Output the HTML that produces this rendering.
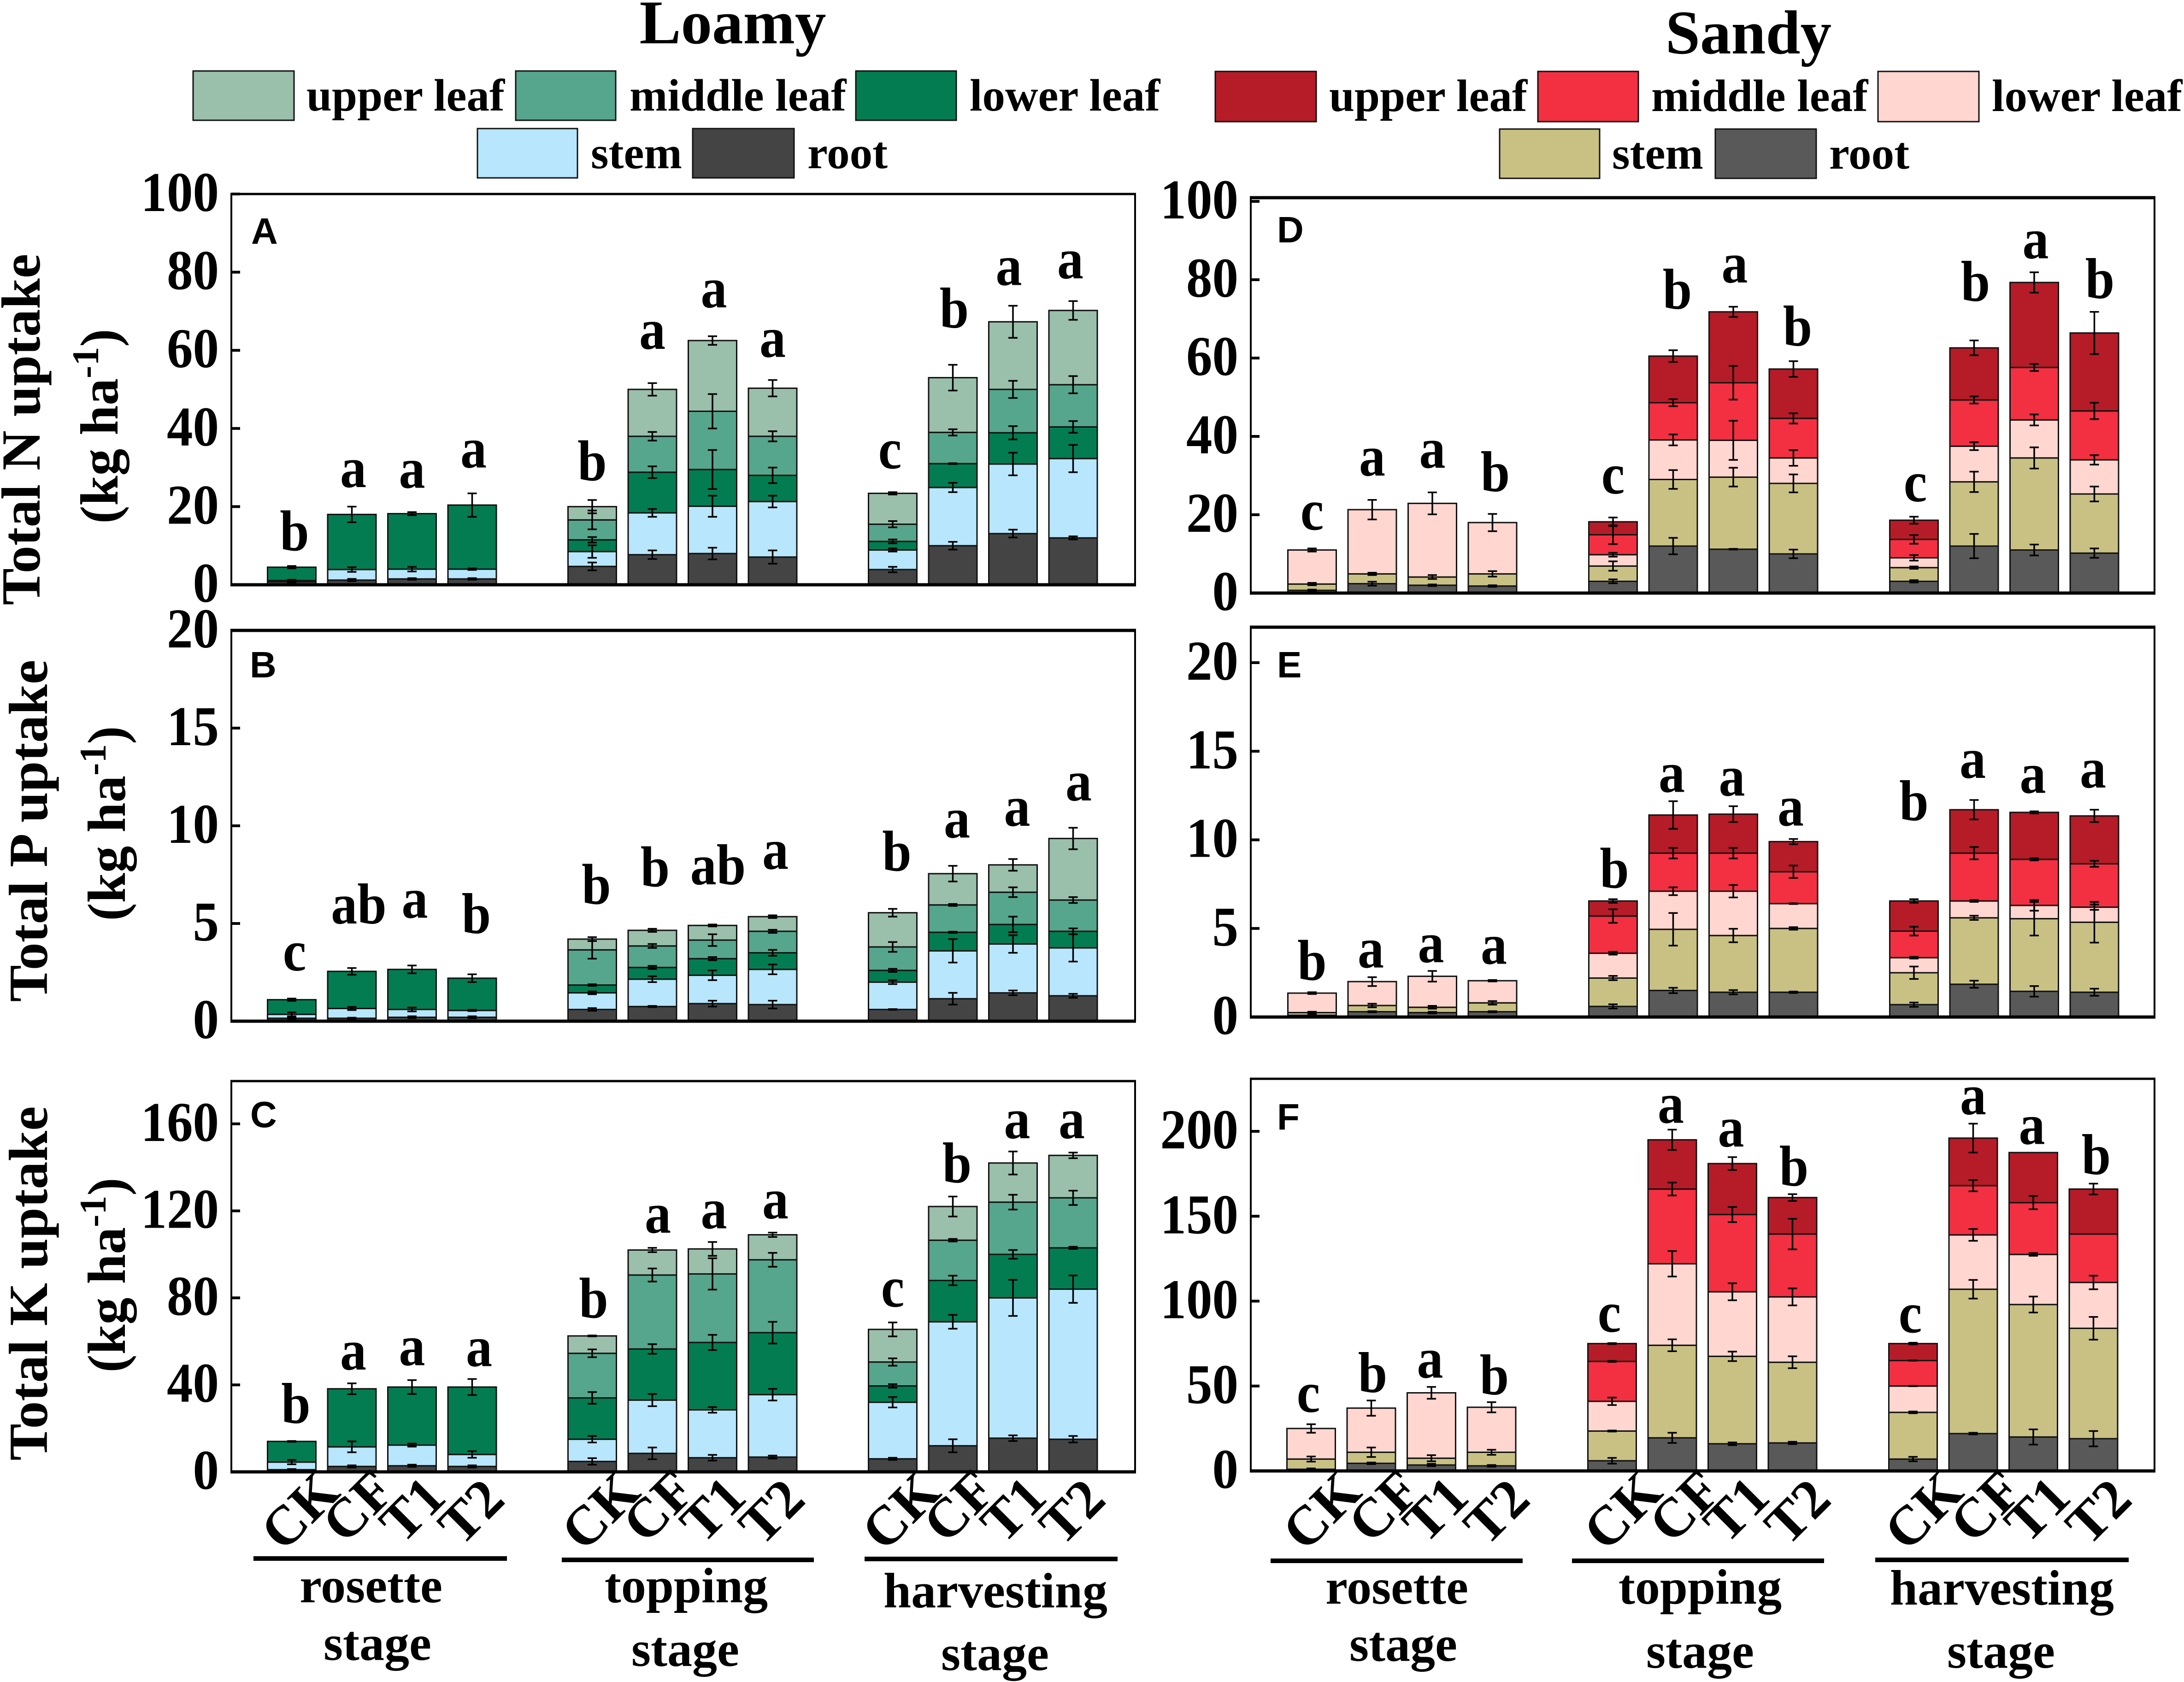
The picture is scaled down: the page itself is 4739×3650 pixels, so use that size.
<!DOCTYPE html>
<html lang="en">
<head>
<meta charset="utf-8">
<title>Total N, P and K uptake in loamy and sandy soil</title>
<style>
html,body{margin:0;padding:0;background:#fff;width:4739px;height:3650px;overflow:hidden}
svg{display:block}
text{font-family:"Liberation Serif",serif;font-weight:bold;fill:#000}
.lg{font-size:99px}
.stg{font-size:108px;text-anchor:middle}
.ttl{font-size:135px;text-anchor:middle}
.ay{font-size:120px;text-anchor:middle}
.ay2{font-size:117px;text-anchor:middle}
.pl{font-family:"Liberation Sans",sans-serif;font-size:80px}
.sw{stroke:#111;stroke-width:3}
</style>
</head>
<body>
<svg id="figure" xmlns="http://www.w3.org/2000/svg" width="4739" height="3650" viewBox="0 0 4739 3650">
<rect width="4739" height="3650" fill="#fff"/>
<text class="ttl" x="1590" y="94">Loamy</text>
<text class="ttl" x="3794" y="116">Sandy</text>

<g>
<rect class="sw" x="419" y="154" width="219" height="107" fill="#9abfab"/>
<text class="lg" x="665" y="240">upper leaf</text>
<rect class="sw" x="1119" y="154" width="217" height="107" fill="#55a68c"/>
<text class="lg" x="1366" y="240">middle leaf</text>
<rect class="sw" x="1857" y="154" width="218" height="107" fill="#037c52"/>
<text class="lg" x="2104" y="240">lower leaf</text>
<rect class="sw" x="1036" y="279" width="217" height="107" fill="#b8e6fc"/>
<text class="lg" x="1282" y="365">stem</text>
<rect class="sw" x="1503" y="279" width="220" height="107" fill="#444444"/>
<text class="lg" x="1752" y="365">root</text>
</g>

<g>
<rect class="sw" x="2637" y="155" width="219" height="109" fill="#b51c28"/>
<text class="lg" x="2884" y="241">upper leaf</text>
<rect class="sw" x="3337" y="155" width="218" height="109" fill="#f32f42"/>
<text class="lg" x="3583" y="241">middle leaf</text>
<rect class="sw" x="4075" y="155" width="219" height="109" fill="#ffd6d0"/>
<text class="lg" x="4322" y="241">lower leaf</text>
<rect class="sw" x="3254" y="280" width="217" height="107" fill="#c9c184"/>
<text class="lg" x="3498" y="366">stem</text>
<rect class="sw" x="3722" y="280" width="219" height="107" fill="#595959"/>
<text class="lg" x="3969" y="366">root</text>
</g>

<text class="ay" transform="translate(86,932) rotate(-90)">Total N uptake</text>
<text class="ay2" transform="translate(255,925) rotate(-90)">(kg ha<tspan font-size="82" dy="-42">-1</tspan><tspan dy="42">)</tspan></text>
<text class="ay" transform="translate(102,1803) rotate(-90)">Total P uptake</text>
<text class="ay2" transform="translate(271,1787) rotate(-90)">(kg ha<tspan font-size="82" dy="-42">-1</tspan><tspan dy="42">)</tspan></text>
<text class="ay" transform="translate(102,2785) rotate(-90)">Total K uptake</text>
<text class="ay2" transform="translate(271,2767) rotate(-90)">(kg ha<tspan font-size="82" dy="-42">-1</tspan><tspan dy="42">)</tspan></text>

<g>
<line x1="550" x2="1100" y1="3382" y2="3382" stroke="#000" stroke-width="10"/>
<line x1="1219" x2="1766" y1="3385" y2="3385" stroke="#000" stroke-width="10"/>
<line x1="1876" x2="2425" y1="3383" y2="3383" stroke="#000" stroke-width="10"/>
<text class="stg" x="805" y="3477">rosette</text>
<text class="stg" x="819" y="3602">stage</text>
<text class="stg" x="1489" y="3477">topping</text>
<text class="stg" x="1487" y="3615">stage</text>
<text class="stg" x="2160" y="3488">harvesting</text>
<text class="stg" x="2159" y="3624">stage</text>
</g>
<g>
<line x1="2757" x2="3304" y1="3387" y2="3387" stroke="#000" stroke-width="10"/>
<line x1="3411" x2="3958" y1="3387" y2="3387" stroke="#000" stroke-width="10"/>
<line x1="4069" x2="4619" y1="3385" y2="3385" stroke="#000" stroke-width="10"/>
<text class="stg" x="3031" y="3480">rosette</text>
<text class="stg" x="3045" y="3604">stage</text>
<text class="stg" x="3689" y="3480">topping</text>
<text class="stg" x="3689" y="3619">stage</text>
<text class="stg" x="4344" y="3482">harvesting</text>
<text class="stg" x="4342" y="3619">stage</text>
</g>
<g id="plots"></g>
</svg>

<script>
// Shared categories
const treatments = ['CK', 'CF', 'T1', 'T2'];
const stages = ['rosette', 'topping', 'harvesting'];
const organs = ['root', 'stem', 'lower-leaf', 'middle-leaf', 'upper-leaf'];

// Panel A: Total N uptake, loamy
const A_ticks = [0, 20, 40, 60, 80, 100];
const A_root = [.8,1.2,1.5,1.5, 4.7,7.7,8,7.1, 3.9,10,13.1,12];
const A_stem = [.3,2.7,2.5,2.5, 3.8,10.7,12.1,14.2, 5,14.9,17.8,20.3];
const A_lower = [3.4,14.1,14.2,16.4, 3,10.4,9.4,6.7, 2.2,6.1,8,8.1];
const A_middle = [0,0,0,0, 5.1,9.2,14.9,10, 4.4,8,11.1,10.8];
const A_upper = [0,0,0,0, 3.4,12,18.1,12.3, 7.9,14,17.3,19];
const A_rootErr = [.2,.3,.2,.2, 1,1.1,1.5,1.7, .7,1,1,.4];
const A_stemErr = [.2,.6,.6,.2, 1.6,1,2.7,1.5, .4,1.2,2.9,3.5];
const A_lowerErr = [.3,2,.4,3, .7,1.5,5,2, .5,.1,1.7,1.5];
const A_middleErr = [0,0,0,0, 2.4,1.1,4.4,1.3, .8,.8,2.2,2.2];
const A_upperErr = [0,0,0,0, 1.7,1.6,1.1,2.1, .3,3.3,4.1,2.4];
const A_letters = ['b','a','a','a', 'b','a','a','a', 'c','b','a','a'];
const A_letterLevels = [8.8,25,24.8,30, 26.7,60.4,71,58.3, 29.8,65.8,76.7,78.4];

// Panel B: Total P uptake, loamy
const B_ticks = [0, 5, 10, 15, 20];
const B_root = [.15,.15,.2,.2, .6,.75,.9,.85, .6,1.15,1.45,1.3];
const B_stem = [.2,.5,.4,.35, .85,1.4,1.45,1.8, 1.4,2.45,2.5,2.45];
const B_lower = [.75,1.9,2.05,1.65, .4,.6,.85,.85, .6,.95,1,.85];
const B_middle = [0,0,0,0, 1.8,1.1,.95,1.1, 1.2,1.4,1.65,1.6];
const B_upper = [0,0,0,0, .55,.8,.75,.75, 1.75,1.6,1.4,3.15];
const B_rootErr = [.03,.03,.05,.05, .07,.03,.15,.2, .02,.3,.12,.1];
const B_stemErr = [.1,.08,.1,.03, .07,.15,.25,.25, .1,.6,.45,.7];
const B_lowerErr = [.06,.17,.2,.2, .04,.08,.08,.15, .08,.03,.4,.15];
const B_middleErr = [0,0,0,0, .45,.1,.3,.08, .25,.05,.25,.15];
const B_upperErr = [0,0,0,0, .1,.08,.05,.07, .2,.4,.3,.55];
const B_letters = ['c','ab','a','b', 'b','b','ab','a', 'b','a','a','a'];
const B_letterLevels = [2.6,5,5.3,4.5, 6,6.9,7,7.8, 7.7,9.4,10,11.3];

// Panel C: Total K uptake, loamy
const C_ticks = [0, 40, 80, 120, 160];
const C_root = [1,2.5,2.8,2.5, 4.8,8.5,6.5,6.8, 6,12,15.5,15];
const C_stem = [3.5,9,9.5,5.5, 10.2,24.5,22,28.7, 26,57,64.5,69];
const C_lower = [9.5,26.7,26.7,31, 19,23.5,31,28.5, 7.5,19,20,19];
const C_middle = [0,0,0,0, 20.5,34,31.5,33.5, 11,18.5,24,23];
const C_upper = [0,0,0,0, 8,11.5,11.5,11.5, 15,15.5,18,19.5];
const C_rootErr = [.3,.5,.5,.5, 1.5,2.7,1.3,.7, .5,3,1.3,1.5];
const C_stemErr = [1,2.5,.7,1.5, 1.5,2.8,1.3,2.7, 2.4,3.2,8.3,6.3];
const C_lowerErr = [.2,2.5,3.2,3.7, 2.7,2.2,3.5,5, .8,2.2,2,.5];
const C_middleErr = [0,0,0,0, 1.8,3,7.2,3.2, 1.7,.6,3.4,3.3];
const C_upperErr = [0,0,0,0, .2,1,3.2,1, 3.2,4.6,5.3,1.3];
const C_letters = ['b','a','a','a', 'b','a','a','a', 'c','b','a','a'];
const C_letterLevels = [22.5,47,49,48.6, 70.9,110,112,116.5, 76,133,153.4,153.4];

// Panel D: Total N uptake, sandy
const D_ticks = [0, 20, 40, 60, 80, 100];
const D_root = [.7,2.4,2,1.8, 3,12,11.2,10, 3,12,11,10.2];
const D_stem = [1.6,2.5,2.1,3.1, 3.9,17,18.4,18, 3.5,16.4,23.5,15.1];
const D_lower = [8.7,16.4,18.8,13.1, 2.9,10.1,9.4,6.5, 2.5,9.1,9.7,8.7];
const D_middle = [0,0,0,0, 5.1,9.5,14.7,10.1, 4.7,11.8,13.4,12.5];
const D_upper = [0,0,0,0, 3.3,11.9,18.1,12.6, 4.9,13.3,21.7,19.9];
const D_rootErr = [.2,.5,.2,.2, .5,2.1,.1,1.1, .3,3.1,1.4,1.2];
const D_stemErr = [.3,.3,.5,.7, 1.2,2.4,2.4,2.3, .3,2.6,2.7,1.9];
const D_lowerErr = [.4,2.5,2.8,2.2, .5,1.4,5,2, .7,1,1.4,1.2];
const D_middleErr = [0,0,0,0, 2.4,.9,4.3,1.3, 1.1,.9,.9,2.1];
const D_upperErr = [0,0,0,0, 1.1,1.5,1.3,2, .9,1.9,2.6,5.4];
const D_letters = ['c','a','a','b', 'c','b','a','b', 'c','b','a','b'];
const D_letterLevels = [16.2,30,32,26, 25.4,72.6,79.3,63.2, 23.4,74.6,85.5,75.3];

// Panel E: Total P uptake, sandy
const E_ticks = [0, 5, 10, 15, 20];
const E_root = [.1,.3,.25,.3, .6,1.5,1.4,1.4, .7,1.85,1.45,1.4];
const E_stem = [.15,.35,.3,.5, 1.6,3.45,3.2,3.6, 1.8,3.75,4.1,3.95];
const E_lower = [1.1,1.35,1.75,1.25, 1.4,2.15,2.5,1.4, .85,.95,.75,.85];
const E_middle = [0,0,0,0, 2.1,2.15,2.15,1.8, 1.5,2.7,2.6,2.45];
const E_upper = [0,0,0,0, .85,2.15,2.2,1.7, 1.7,2.45,2.65,2.7];
const E_rootErr = [.03,.03,.05,.03, .12,.15,.12,.04, .12,.2,.3,.2];
const E_stemErr = [.05,.1,.08,.1, .12,.92,.38,.07, .35,.12,.95,1.15];
const E_lowerErr = [.05,.25,.3,.04, .08,.22,.35,.02, .05,.05,.3,.15];
const E_middleErr = [0,0,0,0, .38,.3,.3,.35, .25,.35,.06,.17];
const E_upperErr = [0,0,0,0, .1,.78,.45,.15, .1,.55,.06,.35];
const E_letters = ['b','a','a','a', 'b','a','a','a', 'b','a','a','a'];
const E_letterLevels = [2.1,2.8,3.1,3, 7.3,12.7,12.5,10.8, 11.1,13.5,12.65,12.95];

// Panel F: Total K uptake, sandy
const F_ticks = [0, 50, 100, 150, 200];
const F_root = [1,4.5,3.5,3, 6,19.5,16,16.5, 7,22,20,19];
const F_stem = [6,6.5,4,8, 17.5,54.5,51.5,47.5, 27.5,85,78,65];
const F_lower = [18,26,38.5,26.5, 17.5,48,38,38.5, 15.5,32,29.5,27];
const F_middle = [0,0,0,0, 23.5,44,45.5,37, 15,29,30.5,28.5];
const F_upper = [0,0,0,0, 10.5,29,30,21.5, 10,28,29.5,26.5];
const F_rootErr = [.5,.5,.7,.5, 1.7,3,.8,.7, 1.3,.5,4.5,4.5];
const F_stemErr = [1.5,2.8,1.8,1.5, .3,3.5,2.8,3.5, .5,5.5,4.7,6.7];
const F_lowerErr = [2.5,4.5,3.5,3, 2.2,7.5,5,5, .1,3.5,.8,4];
const F_middleErr = [0,0,0,0, .3,3.8,4.5,9, .1,3.3,3.9,0];
const F_upperErr = [0,0,0,0, .3,6,3.8,2, .5,8.5,0,3.2];
const F_letters = ['c','b','a','b', 'c','a','a','b', 'c','a','a','b'];
const F_letterLevels = [34.7,46.4,55,45, 82,205,191,168, 81.6,210,192.5,174.7];

const SVG_NS = 'http://www.w3.org/2000/svg';
const plotsRoot = document.getElementById('plots');
const loamyColors = ['#444444', '#b8e6fc', '#037c52', '#55a68c', '#9abfab'];
const sandyColors = ['#595959', '#c9c184', '#ffd6d0', '#f32f42', '#b51c28'];

function node(parent, tag) {
  const el = document.createElementNS(SVG_NS, tag);
  parent.appendChild(el);
  return el;
}
function setAll(el, props) {
  Object.keys(props).forEach(function (k) { el.setAttribute(k, props[k]); });
  return el;
}

function drawPanel(cfg) {
  const group = node(plotsRoot, 'g');
  
  

  const yScale = function (v) { return cfg.y0 - v * cfg.unit; };
  const xScale = function (i) {
    const g = Math.floor(i / 4);
    return cfg.groupStarts[g] + (i % 4) * 130.5;
  };
  const bw = 105;

  const frame = setAll(node(group, 'rect'), { x: cfg.left, y: cfg.top, width: cfg.right - cfg.left, height: cfg.y0 - cfg.top, fill: '#fff', stroke: '#000', 'stroke-width': 4 });
  
  

  cfg.ticks.forEach(function (t) {
    const y = yScale(t);
    const tick = setAll(node(group, 'line'), { x1: cfg.left, x2: cfg.left + 19, y1: y, y2: y, stroke: '#000', 'stroke-width': 6 });
    
    
    const lab = setAll(node(group, 'text'), { transform: 'translate(' + (cfg.left - 27) + ',' + (y + 37) + ') scale(1,1.08)', 'text-anchor': 'end', 'font-size': 113 });
    lab.textContent = String(t);
    
    
  });

  const n = cfg.series[0].length;
  for (let i = 0; i < n; i++) {
    const x = xScale(i);
    let base = 0;
    const tops = [];
    cfg.series.forEach(function (values, s) {
      const v = values[i];
      const top = base + v;
      tops.push(top);
      if (v > 0) {
        const bar = setAll(node(group, 'rect'), { x: x - bw / 2, y: yScale(top), width: bw, height: v * cfg.unit, fill: cfg.colors[s], stroke: '#111', 'stroke-width': 3 });
        
        
      }
      base = top;
    });
    cfg.errors.forEach(function (errs, s) {
      const e = errs[i];
      if (cfg.series[s][i] <= 0 || e <= 0) return;
      const hi = yScale(tops[s] + e);
      const lo = yScale(tops[s] - e);
      const err = setAll(node(group, 'path'), { d: 'M' + (x - 10) + ' ' + hi + 'H' + (x + 10) + 'M' + x + ' ' + hi + 'V' + lo + 'M' + (x - 10) + ' ' + lo + 'H' + (x + 10), fill: 'none', stroke: '#000', 'stroke-width': 3.5 });
      
      
    });
    const letter = setAll(node(group, 'text'), { transform: 'translate(' + (x + cfg.letterNudge[i]) + ',' + yScale(cfg.letterLevels[i]) + ') scale(1,1.1)', 'text-anchor': 'middle', 'font-size': 114 });
    letter.textContent = cfg.letters[i];
    
    
    if (cfg.showX) {
      const t = i % 4;
      const xl = setAll(node(group, 'text'), { transform: 'translate(' + (x + cfg.xLabelDx[t]) + ',' + cfg.xLabelY[t] + ') rotate(-45)', 'text-anchor': 'middle', 'dominant-baseline': 'central', 'font-size': 120 });
      xl.textContent = treatments[t];
      
      
    }
  }

  const topLine = setAll(node(group, 'line'), { x1: cfg.left - 2, x2: cfg.right + 2, y1: cfg.top, y2: cfg.top, stroke: '#000', 'stroke-width': cfg.topW });
  
  
  const axis = setAll(node(group, 'line'), { x1: cfg.left - 2, x2: cfg.right + 2, y1: cfg.y0, y2: cfg.y0, stroke: '#000', 'stroke-width': 7 });
  
  

  const tag = setAll(node(group, 'text'), { x: cfg.tagX, y: cfg.tagY, 'font-size': 80 });
  tag.setAttribute('class', 'pl');
  tag.textContent = cfg.id;
  
  
}

const leftStarts = [633, 1285, 1937];
const rightStarts = [2847, 3500, 4153];
const leftXDx = [17, 13, 0, -3];
const rightXDx = [22, 27, 8, 10];
const xLabelYs = [3278, 3268, 3275, 3280];

// Horizontal layout nudges for significance letters (layout only, not data)
const nudgeA = [6,3,0,3, 0,0,3,0, -6,3,-9,-6];
const nudgeB = [6,15,6,9, 9,6,12,6, 9,9,9,12];
const nudgeC = [9,3,0,15, 3,12,3,6, 0,9,9,-3];
const nudgeD = [0,0,0,6, 0,9,3,9, 3,3,3,12];
const nudgeE = [0,-3,-3,3, 3,-3,-3,-6, 0,-3,-3,-3];
const nudgeF = [-6,3,-3,6, -6,-3,-3,3, -6,0,-3,6];

drawPanel({ id: 'A', left: 502, right: 2463, top: 421, y0: 1269, unit: 8.48, topW: 5, tagX: 545, tagY: 529, groupStarts: leftStarts, colors: loamyColors, ticks: A_ticks, series: [A_root, A_stem, A_lower, A_middle, A_upper], errors: [A_rootErr, A_stemErr, A_lowerErr, A_middleErr, A_upperErr], letters: A_letters, letterLevels: A_letterLevels, letterNudge: nudgeA, showX: false });
drawPanel({ id: 'B', left: 502, right: 2463, top: 1368, y0: 2216, unit: 42.4, topW: 7, tagX: 542, tagY: 1470, groupStarts: leftStarts, colors: loamyColors, ticks: B_ticks, series: [B_root, B_stem, B_lower, B_middle, B_upper], errors: [B_rootErr, B_stemErr, B_lowerErr, B_middleErr, B_upperErr], letters: B_letters, letterLevels: B_letterLevels, letterNudge: nudgeB, showX: false });
drawPanel({ id: 'C', left: 502, right: 2463, top: 2346, y0: 3194, unit: 4.72, topW: 5, tagX: 543, tagY: 2446, groupStarts: leftStarts, colors: loamyColors, ticks: C_ticks, series: [C_root, C_stem, C_lower, C_middle, C_upper], errors: [C_rootErr, C_stemErr, C_lowerErr, C_middleErr, C_upperErr], letters: C_letters, letterLevels: C_letterLevels, letterNudge: nudgeC, showX: true, xLabelDx: leftXDx, xLabelY: xLabelYs });
drawPanel({ id: 'D', left: 2714, right: 4675, top: 429, y0: 1287, unit: 8.5, topW: 7, tagX: 2771, tagY: 526, groupStarts: rightStarts, colors: sandyColors, ticks: D_ticks, series: [D_root, D_stem, D_lower, D_middle, D_upper], errors: [D_rootErr, D_stemErr, D_lowerErr, D_middleErr, D_upperErr], letters: D_letters, letterLevels: D_letterLevels, letterNudge: nudgeD, showX: false });
drawPanel({ id: 'E', left: 2714, right: 4675, top: 1361, y0: 2207, unit: 38.45, topW: 7, tagX: 2771, tagY: 1470, groupStarts: rightStarts, colors: sandyColors, ticks: E_ticks, series: [E_root, E_stem, E_lower, E_middle, E_upper], errors: [E_rootErr, E_stemErr, E_lowerErr, E_middleErr, E_upperErr], letters: E_letters, letterLevels: E_letterLevels, letterNudge: nudgeE, showX: false });
drawPanel({ id: 'F', left: 2714, right: 4675, top: 2341, y0: 3192, unit: 3.685, topW: 5, tagX: 2771, tagY: 2451, groupStarts: [2845, 3498, 4151], colors: sandyColors, ticks: F_ticks, series: [F_root, F_stem, F_lower, F_middle, F_upper], errors: [F_rootErr, F_stemErr, F_lowerErr, F_middleErr, F_upperErr], letters: F_letters, letterLevels: F_letterLevels, letterNudge: nudgeF, showX: true, xLabelDx: rightXDx, xLabelY: xLabelYs });
</script>
</body>
</html>
